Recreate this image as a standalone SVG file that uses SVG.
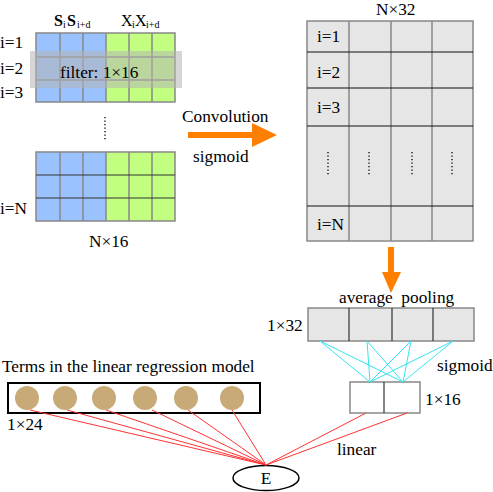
<svg xmlns="http://www.w3.org/2000/svg" width="493" height="492" viewBox="0 0 493 492" font-family="'Liberation Serif', 'Times New Roman', 'DejaVu Serif', serif">
<style>
text{font-family:'Liberation Serif','Times New Roman','DejaVu Serif',serif;font-size:17.3px;fill:#000}
.sub{font-size:10px}
.b{fill:#99c2ff}
.g{fill:#c2ff80}
.gl{stroke:#888;stroke-width:1.5;fill:none}
.dk{stroke:#333;stroke-width:1.2;fill:none}
.cell{fill:#e6e6e6;stroke:#888;stroke-width:1.5}
.dot{stroke:#000;stroke-width:1.3;stroke-dasharray:1.3 2.2;fill:none}
.cy{stroke:#33e6f0;stroke-width:1}
.rd{stroke:#ff3333;stroke-width:1}
.c{fill:#c8aa78}
</style>

<g id="input-grid-top">
<rect class="b" x="36" y="33" width="70" height="69"/>
<rect class="g" x="106" y="33" width="69" height="69"/>
<path class="gl" d="M36,33H175V102H36Z M60,33V102 M83,33V102 M106,33V102 M129,33V102 M152,33V102 M36,57H175 M36,80H175"/>
<text x="54" y="26" font-weight="bold" style="font-size:16px">S</text>
<text x="63" y="28" class="sub">i</text>
<text x="67" y="26" font-weight="bold" style="font-size:16px">S</text>
<text x="77" y="28" class="sub">i+d</text>
<text x="121" y="26" style="font-size:16px">X</text>
<text x="132" y="28" class="sub">i</text>
<text x="135" y="26" style="font-size:16px">X</text>
<text x="146" y="28" class="sub">i+d</text>
<text x="0" y="48">i=1</text>
<text x="0" y="74">i=2</text>
<text x="0" y="98">i=3</text>
</g>

<g id="filter">
<rect x="30" y="51" width="152" height="37" fill="#b4b4b4" fill-opacity="0.55"/>
<text x="60" y="78">filter: 1×16</text>
</g>

<g id="dots-left">
<path class="dot" d="M105,117V140"/>
</g>

<g id="input-grid-bottom">
<rect class="b" x="36" y="152" width="70" height="69"/>
<rect class="g" x="106" y="152" width="69" height="69"/>
<path class="gl" d="M36,152H175V221H36Z M60,152V221 M83,152V221 M106,152V221 M129,152V221 M152,152V221"/>
<path class="dk" d="M36,175H175 M36,198H175"/>
<text x="0" y="214">i=N</text>
<text x="89" y="247">N×16</text>
</g>

<g id="conv-arrow">
<text x="182" y="122">Convolution</text>
<text x="193" y="162">sigmoid</text>
<path d="M188,132H252V123L277,135L252,147V138H188Z" fill="#ff8000"/>
</g>

<g id="feature-map">
<text x="376" y="15">N×32</text>
<rect class="cell" x="307" y="21" width="166" height="220"/>
<path class="gl" d="M349,21V241 M391,21V241 M432,21V241"/>
<path stroke="#111" stroke-width="1.2" d="M307,52H473 M307,88H473 M307,126H473 M307,206H473"/>
<text x="317" y="42">i=1</text>
<text x="317" y="78">i=2</text>
<text x="317" y="113">i=3</text>
<text x="317" y="230">i=N</text>
<path class="dot" d="M328,152V176 M369,152V176 M412,152V176 M452,152V176"/>
</g>

<g id="pool-arrow">
<path d="M388,247H394V272H401L391,293L382,272H388Z" fill="#ff8000"/>
</g>

<g id="pooled">
<text x="339" y="303" xml:space="preserve">average  pooling</text>
<text x="267" y="331">1×32</text>
<rect class="cell" x="308" y="308" width="166" height="33" stroke="#333"/>
<path stroke="#333" stroke-width="1.2" d="M349,308V341 M392,308V341 M433,308V341"/>
</g>

<g id="hidden">
<rect x="350" y="382" width="70" height="31" fill="#fff" stroke="#888" stroke-width="1.5"/>
<path stroke="#333" stroke-width="1.2" d="M384,382V413"/>
<text x="425" y="405">1×16</text>
<text x="437" y="371">sigmoid</text>
</g>

<g id="terms">
<text x="2" y="372">Terms in the linear regression model</text>
<rect x="8" y="383" width="252" height="30" fill="#fff" stroke="#000" stroke-width="2"/>
<circle class="c" cx="27" cy="398" r="12"/>
<circle class="c" cx="65" cy="398" r="12"/>
<circle class="c" cx="104" cy="398" r="12"/>
<circle class="c" cx="145" cy="398" r="12"/>
<circle class="c" cx="186" cy="398" r="12"/>
<circle class="c" cx="232" cy="398" r="12"/>
<text x="7" y="430">1×24</text>
</g>

<g id="E">
<ellipse cx="266" cy="478" rx="33" ry="12.5" fill="#fff" stroke="#000" stroke-width="1.5"/>
<text x="266" y="484" text-anchor="middle">E</text>
</g>

<g id="connectors">
<path class="cy" d="M320,341L370,382 M320,341L403,382 M367,341L370,382 M367,341L403,382 M411,341L370,382 M411,341L403,382 M453,341L370,382 M453,341L403,382"/>
<path class="rd" d="M30,410L266,465 M67,410L266,465 M106,410L266,465 M152,410L266,465 M188,410L266,465 M232,410L266,465 M366,413L266,465 M407,413L266,465"/>
<text x="337" y="455">linear</text>
</g>
</svg>
